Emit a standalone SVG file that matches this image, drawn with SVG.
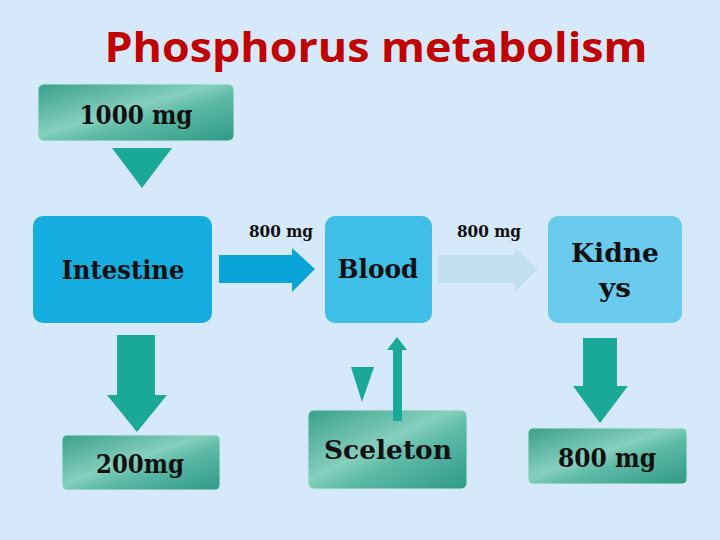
<svg xmlns="http://www.w3.org/2000/svg" width="720" height="540" viewBox="0 0 720 540">
<defs>
<linearGradient id="teal" x1="0" y1="0" x2="1" y2="1">
<stop offset="0" stop-color="#3aa08c"/>
<stop offset="0.45" stop-color="#86cfbe"/>
<stop offset="0.6" stop-color="#5dbaa7"/>
<stop offset="1" stop-color="#2f9a86"/>
</linearGradient>
<style>
.lbl{font-family:"DejaVu Serif","Liberation Serif",serif;font-size:26px;font-weight:bold;fill:#111;text-anchor:middle}
.small{font-family:"DejaVu Serif","Liberation Serif",serif;font-size:16px;font-weight:bold;fill:#111;text-anchor:middle}
.tealbox{fill:url(#teal);stroke:#c9ebe4;stroke-width:1}
.arr{fill:#1aa898}
</style>
</defs>
<rect width="720" height="540" fill="#d6e9fa"/>
<text x="376" y="62" font-family="'Open Sans','DejaVu Sans',sans-serif" font-size="42" font-weight="700" fill="#c00000" text-anchor="middle" textLength="543" lengthAdjust="spacingAndGlyphs">Phosphorus metabolism</text>

<g id="in1000">
<rect class="tealbox" x="38" y="84" width="196" height="57" rx="6"/>
<text class="lbl" x="136" y="124" textLength="113" lengthAdjust="spacingAndGlyphs">1000 mg</text>
</g>
<g id="intestine">
<rect x="33" y="216" width="179" height="107" rx="10" fill="#16ade0"/>
<text class="lbl" x="123" y="279" textLength="123" lengthAdjust="spacingAndGlyphs">Intestine</text>
</g>
<g id="blood">
<rect x="325" y="216" width="107" height="107" rx="10" fill="#3fbee8"/>
<text class="lbl" x="378" y="278" textLength="81" lengthAdjust="spacingAndGlyphs">Blood</text>
</g>
<g id="kidneys">
<rect x="548" y="216" width="134" height="107" rx="10" fill="#6acbee"/>
<text class="lbl" x="615" y="262" textLength="88" lengthAdjust="spacingAndGlyphs">Kidne</text>
<text class="lbl" x="615" y="297" textLength="32" lengthAdjust="spacingAndGlyphs">ys</text>
</g>
<g id="out200">
<rect class="tealbox" x="62" y="435" width="158" height="55" rx="5"/>
<text class="lbl" x="140" y="473" textLength="88" lengthAdjust="spacingAndGlyphs">200mg</text>
</g>
<g id="sceleton">
<rect class="tealbox" x="308" y="410" width="159" height="79" rx="6"/>
<text class="lbl" x="388" y="459" textLength="128" lengthAdjust="spacingAndGlyphs">Sceleton</text>
</g>
<g id="out800">
<rect class="tealbox" x="528" y="428" width="159" height="56" rx="5"/>
<text class="lbl" x="607" y="467" textLength="98" lengthAdjust="spacingAndGlyphs">800 mg</text>
</g>
<g id="labels">
<text class="small" x="281" y="237" textLength="64" lengthAdjust="spacingAndGlyphs">800 mg</text>
<text class="small" x="489" y="237" textLength="64" lengthAdjust="spacingAndGlyphs">800 mg</text>
</g>

<g id="connectors">
<polygon class="arr" points="112,148 172,148 142,188"/>
<polygon fill="#0aa5d8" points="219,255 292,255 292,248 315,269 292,292 292,283 219,283"/>
<polygon fill="#c2dff1" points="438,255 515,255 515,248 538,269 515,292 515,283 438,283"/>
<polygon class="arr" points="117,335 155,335 155,395 167,395 137,432 107,395 117,395"/>
<polygon class="arr" points="351,367 374,367 362,402"/>
<polygon class="arr" points="393,421 393,350 387,350 397,337 407,350 402,350 402,421"/>
<polygon class="arr" points="583,338 617,338 617,386 628,386 600,423 573,386 583,386"/>
</g>
</svg>
